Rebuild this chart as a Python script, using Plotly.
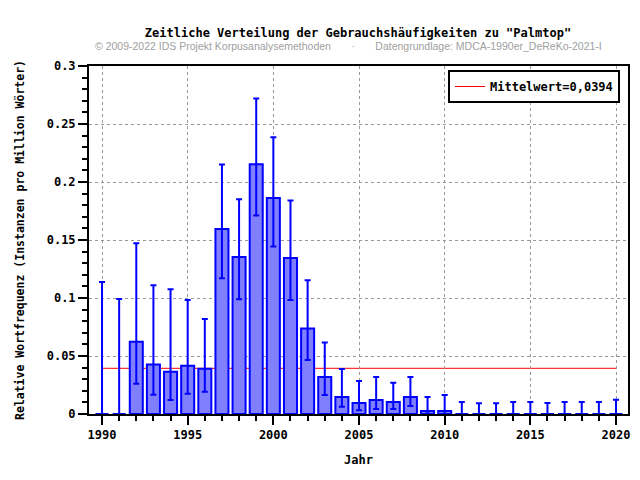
import plotly.graph_objects as go

years = list(range(1990, 2021))
values = [0.0, 0.0, 0.0622, 0.0427, 0.0364, 0.0416, 0.0390, 0.1594, 0.1353, 0.2153,
          0.1863, 0.1344, 0.0737, 0.0318, 0.0146, 0.0095, 0.0120, 0.0103, 0.0146, 0.0026,
          0.0026, 0.0, 0.0, 0.0, 0.0, 0.0, 0.0, 0.0, 0.0, 0.0, 0.0]
err_high = [0.1138, 0.0992, 0.1473, 0.1109, 0.1075, 0.0983, 0.0820, 0.2150, 0.1852, 0.2720,
            0.2385, 0.1840, 0.1153, 0.0617, 0.0389, 0.0284, 0.0318, 0.0269, 0.0318, 0.0146,
            0.0163, 0.0103, 0.0092, 0.0092, 0.0103, 0.0103, 0.0095, 0.0103, 0.0103, 0.0103, 0.0123]
err_low = [0.0, 0.0, 0.0261, 0.0166, 0.0120, 0.0175, 0.0192, 0.1170, 0.0989, 0.1711,
           0.1445, 0.0983, 0.0465, 0.0163, 0.0063, 0.0032, 0.0043, 0.0043, 0.0069, 0.0002,
           0.0, 0.0, 0.0, 0.0, 0.0, 0.0, 0.0, 0.0, 0.0, 0.0, 0.0]
mean_value = 0.0394
mean_label = "Mittelwert=0,0394"

title_text = 'Zeitliche Verteilung der Gebrauchshäufigkeiten zu "Palmtop"'
subtitle_text = ("© 2009-2022 IDS Projekt Korpusanalysemethoden"
                 "\u00a0\u00a0\u00a0\u00a0\u00a0\u00a0\u00a0·\u00a0\u00a0\u00a0\u00a0\u00a0\u00a0\u00a0"
                 "Datengrundlage: MDCA-1990er_DeReKo-2021-I")
x_title = "Jahr"
y_title = "Relative Wortfrequenz (Instanzen pro Million Wörter)"

MONO = "DejaVu Sans Mono"

fig = go.Figure()
fig.add_trace(go.Bar(
    x=years, y=values, width=0.76,
    marker=dict(color="#8080ff", line=dict(color="#0000ff", width=2)),
    error_y=dict(type="data", symmetric=False,
                 array=[h - v for h, v in zip(err_high, values)],
                 arrayminus=[v - l for v, l in zip(values, err_low)],
                 color="#0000ff", thickness=2, width=3),
    showlegend=False, hoverinfo="x+y",
))

fig.add_shape(type="line", x0=years[0], x1=years[-1], y0=mean_value, y1=mean_value,
              xref="x", yref="y", layer="below",
              line=dict(color="#ff0000", width=1),
              showlegend=True, name=mean_label)

fig.update_layout(
    width=640, height=480,
    margin=dict(l=89, r=12, t=66, b=66),
    paper_bgcolor="white", plot_bgcolor="white",
    title=dict(text=title_text, x=358 / 640, xanchor="center", y=1 - 33 / 480, yanchor="middle",
               font=dict(family=MONO, size=12, color="black", weight="bold")),
    showlegend=True,
    legend=dict(x=(620 - 89) / 539, xanchor="right", y=(414 - 70) / 348, yanchor="top",
                bgcolor="white", bordercolor="black", borderwidth=2,
                font=dict(family=MONO, size=12, color="black", weight="bold"),
                itemwidth=30),
    xaxis=dict(range=[1989.24, 2020.70], tickmode="linear", tick0=1990, dtick=5,
               ticks="outside", ticklen=9, tickwidth=2, tickcolor="black",
               minor=dict(dtick=1, tick0=1990, ticks="outside", ticklen=5, tickwidth=2,
                          tickcolor="black", showgrid=False),
               showgrid=True, gridcolor="#999999", griddash="dot", gridwidth=1,
               showline=True, linecolor="black", linewidth=2, mirror=True,
               zeroline=False, automargin=False,
               tickfont=dict(family=MONO, size=12, color="black", weight="bold"),
               title=dict(text=x_title, standoff=14,
                          font=dict(family=MONO, size=12, color="black", weight="bold"))),
    yaxis=dict(range=[0, 0.3], tickmode="linear", tick0=0, dtick=0.05,
               ticks="outside", ticklen=9, tickwidth=2, tickcolor="black",
               minor=dict(dtick=0.01, ticks="outside", ticklen=5, tickwidth=2,
                          tickcolor="black", showgrid=False),
               showgrid=True, gridcolor="#999999", griddash="dot", gridwidth=1,
               showline=True, linecolor="black", linewidth=2, mirror=True,
               zeroline=False, tickformat="~g", automargin=False,
               tickfont=dict(family=MONO, size=12, color="black", weight="bold"),
               title=dict(text=y_title, standoff=20,
                          font=dict(family=MONO, size=11.5, color="black", weight="bold"))),
    annotations=[dict(text=subtitle_text, xref="paper", yref="paper",
                      x=(348 - 89) / 539, y=(414 - 46) / 348,
                      xanchor="center", yanchor="middle", showarrow=False,
                      font=dict(family="Liberation Sans", size=10.5, color="#a0a0a0"))],
)

fig.write_html("out.html", config={"displayModeBar": False})

with open("out.html", encoding="utf-8") as f:
    html = f.read()
html = html.replace("<head>", "<head><style>html,body{margin:0;padding:0;overflow:hidden}</style>", 1)
with open("out.html", "w", encoding="utf-8") as f:
    f.write(html)
